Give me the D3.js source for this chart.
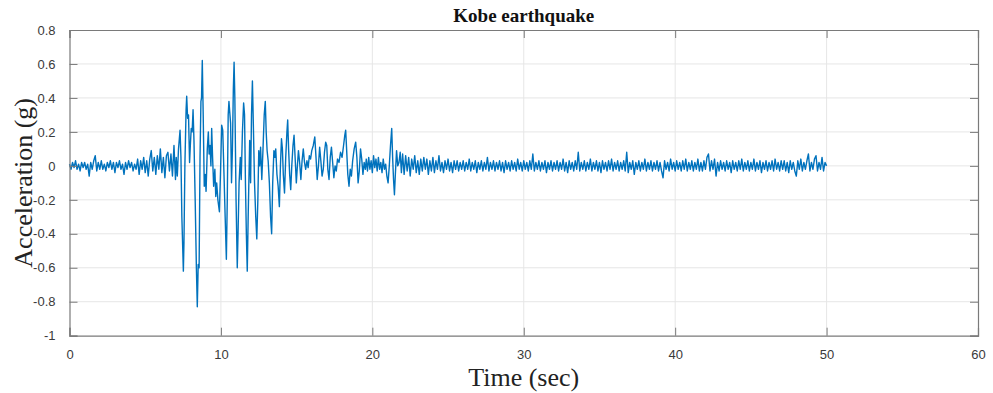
<!DOCTYPE html>
<html>
<head>
<meta charset="utf-8">
<script src="https://cdn.jsdelivr.net/npm/d3@7"></script>
<style>
  body { margin: 0; background: #fff; }
  svg { display: block; }
</style>
</head>
<body>
<div id="chart"></div>
<script>
// Kobe earthquake record (g)

// quiet start, 0.0 to 7.0 s, one value every 0.1 s
const quietStart = [
  0.01,
  -0.02, 0.02, -0.01, 0.03, -0.02, 0.01, -0.03, 0.02, -0.01, 0.02,
  -0.02, 0.01, -0.06, 0.02, -0.02, 0.03, 0.06, -0.03, 0.02, -0.02,
  0.03, -0.02, 0.01, -0.03, 0.02, -0.01, 0.03, -0.02, 0.02, -0.04,
  0.02, -0.01, 0.03, -0.02, 0.01, -0.05, 0.02, -0.02, 0.03, -0.01,
  0.02, -0.03, 0.01, -0.02, 0.04, -0.05, 0.03, -0.02, 0.05, -0.04,
  0.03, -0.06, 0.04, 0.09, -0.03, 0.05, -0.05, 0.06, -0.02, 0.1,
  -0.04, 0.05, -0.07, 0.06, 0.08, -0.03, 0.07, -0.06, 0.12, -0.08
];

// strong motion, 7 to 22 s, peaks and troughs
const strongTimes = [
  7.05, 7.12, 7.2, 7.3, 7.36, 7.42, 7.52, 7.56, 7.62, 7.7,
  7.74, 7.8, 7.86, 7.93, 7.98, 8.04, 8.1, 8.16, 8.22, 8.3,
  8.38, 8.44, 8.5, 8.56, 8.62, 8.68, 8.72, 8.77, 8.83, 8.9,
  8.96, 9.02, 9.1, 9.17, 9.22, 9.28, 9.34, 9.39, 9.45, 9.52,
  9.6, 9.66, 9.72, 9.8, 9.9, 9.97, 10.05, 10.12, 10.2, 10.28,
  10.36, 10.42, 10.48, 10.53, 10.58, 10.64, 10.7, 10.76, 10.82, 10.87,
  10.92, 11.0, 11.08, 11.14, 11.2, 11.28, 11.34, 11.42, 11.5, 11.56,
  11.62, 11.68, 11.74, 11.8, 11.9, 11.96, 12.02, 12.08, 12.14, 12.22,
  12.3, 12.37, 12.44, 12.5, 12.56, 12.62, 12.7, 12.78, 12.86, 12.93,
  12.99, 13.05, 13.12, 13.2, 13.28, 13.35, 13.42, 13.5, 13.56, 13.62,
  13.7, 13.78, 13.86, 13.93, 14.0, 14.06, 14.12, 14.2, 14.28, 14.36,
  14.41, 14.47, 14.54, 14.61, 14.68, 14.76, 14.83, 14.9, 14.98, 15.05,
  15.12, 15.2, 15.28, 15.36, 15.44, 15.52, 15.6, 15.68, 15.76, 15.84,
  15.92, 16.0, 16.1, 16.2, 16.28, 16.36, 16.44, 16.52, 16.6, 16.68,
  16.76, 16.84, 16.92, 16.99, 17.06, 17.14, 17.22, 17.3, 17.38, 17.46,
  17.54, 17.62, 17.7, 17.8, 17.9, 18.0, 18.1, 18.18, 18.24, 18.3,
  18.38, 18.46, 18.54, 18.62, 18.7, 18.8, 18.9, 18.98, 19.06, 19.14,
  19.22, 19.3, 19.38, 19.46, 19.54, 19.6, 19.68, 19.76, 19.84, 19.92,
  20.0, 20.08, 20.16, 20.24, 20.32, 20.4, 20.48, 20.56, 20.64, 20.72,
  20.8, 20.88, 20.96, 21.04, 21.12, 21.2, 21.28, 21.34, 21.4, 21.46,
  21.52, 21.6, 21.68, 21.76, 21.84, 21.92, 22.0
];
const strongValues = [
  0.05, -0.06, 0.1, 0.21, 0.05, -0.3, -0.62, -0.45, 0.0, 0.33,
  0.41, 0.28, 0.3, 0.02, 0.12, 0.22, 0.2, 0.33, 0.15, -0.2,
  -0.6, -0.83, -0.58, -0.6, 0.05, 0.38, 0.4, 0.62, 0.3, -0.12,
  -0.05, -0.15, 0.1, 0.2, 0.07, 0.12, 0.0, 0.22, 0.05, -0.12,
  -0.02, -0.18, -0.1, -0.2, -0.27, -0.05, 0.24, 0.21, -0.04, -0.3,
  -0.55, -0.2, 0.3, 0.38, 0.32, 0.25, -0.1, 0.1, 0.45, 0.61,
  0.4, -0.2, -0.6, -0.36, -0.1, 0.05, -0.08, 0.2, 0.37, 0.3,
  -0.1, -0.4, -0.62, -0.3, 0.15, -0.1, 0.3, 0.5, 0.25, -0.1,
  -0.3, -0.43, -0.2, 0.09, 0.0, 0.11, -0.08, 0.1, 0.3, 0.38,
  0.2, 0.09, 0.03, -0.1, -0.3, -0.4, -0.1, 0.09, 0.05, 0.1,
  -0.05, -0.12, -0.24, 0.0, 0.16, 0.1, -0.05, -0.16, 0.05, 0.2,
  0.27, 0.1, -0.05, -0.14, 0.0, 0.12, 0.18, 0.05, -0.1, 0.0,
  0.09, 0.02, -0.08, 0.03, 0.1, 0.02, -0.02, 0.03, -0.01, 0.06,
  0.04, 0.09, 0.12, 0.17, 0.05, -0.08, 0.0, 0.11, 0.03, -0.06,
  -0.02, 0.08, 0.14, 0.12, -0.02, -0.08, 0.05, 0.11, 0.02, -0.07,
  0.0, -0.03, 0.04, 0.02, 0.08, 0.05, 0.12, 0.18, 0.21, 0.1,
  -0.05, -0.12, -0.02, -0.06, 0.03, 0.1, 0.14, 0.05, -0.1, -0.03,
  0.1, 0.04, -0.05, 0.02, -0.02, 0.04, -0.03, 0.05, -0.02, 0.03,
  -0.04, 0.06, -0.01, 0.04, -0.03, 0.05, -0.02, 0.02, -0.04, 0.04,
  -0.02, 0.01, -0.06, -0.1, 0.0, 0.12, 0.22, 0.05, -0.08, -0.17,
  -0.05, 0.09, 0.0, 0.02, 0.08, -0.04, 0.07
];

// tail, 22.1 to 50.0 s, one value every 0.1 s
const tailValues = [
  -0.05, 0.06, -0.03, 0.05, -0.06, 0.04, -0.02, 0.06, -0.04, 0.03,
  -0.05, 0.04, -0.03, 0.05, -0.02, 0.04, -0.05, 0.03, -0.03, 0.05,
  -0.04, 0.03, -0.02, 0.06, -0.03, 0.02, -0.04, 0.03, -0.02, 0.04,
  -0.03, 0.02, -0.04, 0.03, -0.02, 0.03, -0.03, 0.02, -0.02, 0.03,
  -0.03, 0.02, -0.02, 0.04, -0.03, 0.02, -0.02, 0.03, -0.04, 0.02,
  -0.02, 0.03, -0.03, 0.02, -0.02, 0.05, -0.03, 0.02, -0.02, 0.03,
  -0.03, 0.02, -0.02, 0.03, -0.03, 0.02, -0.04, 0.03, -0.02, 0.02,
  -0.03, 0.03, -0.02, 0.02, -0.03, 0.04, -0.02, 0.02, -0.03, 0.03,
  -0.02, 0.02, -0.03, 0.03, -0.02, 0.07, -0.03, 0.02, -0.02, 0.03,
  -0.03, 0.02, -0.02, 0.03, -0.04, 0.02, -0.02, 0.03, -0.03, 0.02,
  -0.02, 0.03, -0.03, 0.02, -0.02, 0.04, -0.03, 0.02, -0.04, 0.03,
  -0.02, 0.02, -0.03, 0.03, -0.02, 0.08, -0.03, 0.02, -0.02, 0.03,
  -0.03, 0.02, -0.02, 0.04, -0.03, 0.02, -0.02, 0.03, -0.03, 0.02,
  -0.04, 0.03, -0.02, 0.02, -0.03, 0.03, -0.02, 0.04, -0.03, 0.02,
  -0.02, 0.03, -0.03, 0.02, -0.02, 0.03, -0.03, 0.08, -0.04, 0.02,
  -0.02, 0.03, -0.05, 0.02, -0.02, 0.03, -0.03, 0.02, -0.02, 0.04,
  -0.03, 0.02, -0.02, 0.03, -0.03, 0.02, -0.02, 0.03, -0.03, 0.02,
  -0.03, -0.07, 0.03, -0.02, 0.02, -0.03, 0.04, -0.02, 0.02, -0.03,
  0.03, -0.02, 0.02, -0.03, 0.03, -0.02, 0.04, -0.03, 0.02, -0.02,
  0.03, -0.03, 0.02, -0.02, 0.04, -0.03, 0.02, -0.03, 0.03, -0.02,
  0.05, 0.07, -0.03, 0.03, -0.02, 0.04, -0.06, 0.02, -0.03, 0.03,
  -0.02, 0.02, -0.03, 0.03, -0.02, 0.02, -0.04, 0.03, -0.02, 0.02,
  -0.03, 0.03, -0.02, 0.04, -0.03, 0.02, -0.02, 0.03, -0.03, 0.02,
  -0.02, 0.04, -0.03, 0.02, -0.02, 0.03, -0.04, 0.02, -0.02, 0.03,
  -0.03, 0.02, -0.02, 0.03, -0.03, 0.04, -0.02, 0.02, -0.03, 0.03,
  -0.02, 0.03, -0.03, 0.02, -0.04, 0.03, -0.02, 0.02, -0.03, -0.06,
  0.03, -0.02, 0.04, -0.03, 0.02, -0.02, 0.03, 0.07, -0.03, 0.02,
  -0.02, 0.04, 0.06, -0.03, 0.02, -0.02, 0.05, -0.03, 0.02, 0.0
];

const sampleStep = 0.1;
const tailStart = 22.1;

const xTicks = [0, 10, 20, 30, 40, 50, 60];
const yTicks = [-1, -0.8, -0.6, -0.4, -0.2, 0, 0.2, 0.4, 0.6, 0.8];
const yTickLabels = ["-1", "-0.8", "-0.6", "-0.4", "-0.2", "0", "0.2", "0.4", "0.6", "0.8"];

// build the record as [time, value] pairs
const record = [];
quietStart.forEach((v, i) => record.push([i * sampleStep, v]));
strongTimes.forEach((t, i) => record.push([t, strongValues[i]]));
tailValues.forEach((v, i) => record.push([tailStart + i * sampleStep, v]));

const width = 993, height = 393;
const margin = {top: 30, right: 15, bottom: 57.3, left: 69.5};
const innerW = width - margin.left - margin.right;
const innerH = height - margin.top - margin.bottom;

const svg = d3.select("#chart").append("svg")
    .attr("width", width)
    .attr("height", height);

const g = svg.append("g")
    .attr("transform", `translate(${margin.left},${margin.top})`);

const x = d3.scaleLinear().domain([0, 60]).range([0, innerW]);
const y = d3.scaleLinear().domain([-1, 0.8]).range([innerH, 0]);

// grid
g.append("g")
    .selectAll("line")
    .data(xTicks.slice(1, -1))
    .join("line")
    .attr("x1", d => x(d)).attr("x2", d => x(d))
    .attr("y1", 0).attr("y2", innerH)
    .attr("stroke", "#e6e6e6").attr("stroke-width", 1);

g.append("g")
    .selectAll("line")
    .data(yTicks.slice(1, -1))
    .join("line")
    .attr("x1", 0).attr("x2", innerW)
    .attr("y1", d => y(d)).attr("y2", d => y(d))
    .attr("stroke", "#e6e6e6").attr("stroke-width", 1);

// signal
g.append("path")
    .datum(record)
    .attr("fill", "none")
    .attr("stroke", "#0072BD")
    .attr("stroke-width", 1.4)
    .attr("stroke-linejoin", "round")
    .attr("d", d3.line()
        .x(d => x(d[0]))
        .y(d => y(d[1])));

// axes, ticks pointing inward like MATLAB
const tickLen = 8;
const axisColor = "#7a7a7a";

const xAxis = g.append("g")
    .attr("transform", `translate(0,${innerH})`)
    .call(d3.axisBottom(x).tickValues(xTicks).tickSize(-tickLen).tickPadding(14).tickFormat(d3.format("d")));

const xTop = g.append("g")
    .call(d3.axisTop(x).tickValues(xTicks).tickSize(-tickLen).tickFormat(""));

const yAxis = g.append("g")
    .call(d3.axisLeft(y).tickValues(yTicks).tickSize(-tickLen).tickPadding(14)
        .tickFormat((d, i) => yTickLabels[i]));

const yRight = g.append("g")
    .attr("transform", `translate(${innerW},0)`)
    .call(d3.axisRight(y).tickValues(yTicks).tickSize(-tickLen).tickFormat(""));

[xAxis, xTop, yAxis, yRight].forEach(a => {
    a.select(".domain").attr("stroke", axisColor).attr("stroke-width", 1.2);
    a.selectAll(".tick line").attr("stroke", axisColor);
    a.selectAll(".tick text")
        .attr("fill", "#3a3a3a")
        .style("font-family", "Liberation Sans, Arial, sans-serif")
        .style("font-size", "13px");
});

// titles
svg.append("text")
    .attr("x", margin.left + innerW / 2)
    .attr("y", 22)
    .attr("text-anchor", "middle")
    .style("font-family", "Liberation Serif, Times New Roman, serif")
    .style("font-weight", "bold")
    .style("font-size", "19px")
    .attr("fill", "#111")
    .text("Kobe earthquake");

svg.append("text")
    .attr("x", margin.left + innerW / 2)
    .attr("y", 386)
    .attr("text-anchor", "middle")
    .style("font-family", "Liberation Serif, Times New Roman, serif")
    .style("font-size", "26px")
    .attr("fill", "#222")
    .text("Time (sec)");

svg.append("text")
    .attr("transform", `translate(32,${margin.top + innerH / 2}) rotate(-90)`)
    .attr("text-anchor", "middle")
    .style("font-family", "Liberation Serif, Times New Roman, serif")
    .style("font-size", "26px")
    .attr("fill", "#222")
    .text("Acceleration (g)");
</script>
</body>
</html>
